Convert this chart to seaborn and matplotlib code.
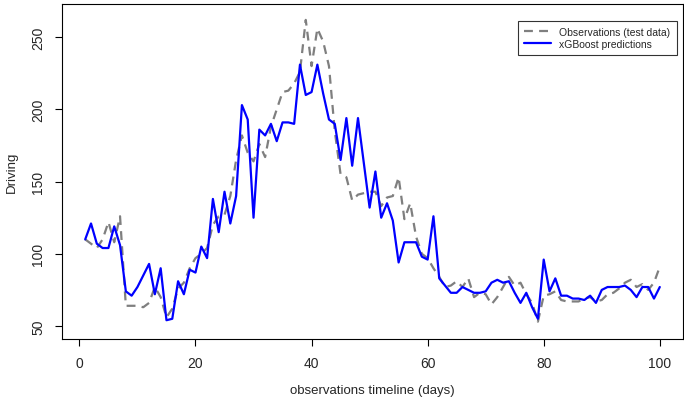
"""Observed vs xGBoost-predicted driving mobility over the test window."""

import matplotlib

matplotlib.use("Agg")
import matplotlib.pyplot as plt
import pandas as pd
import seaborn as sns

days = list(range(1, 101))

observed = [
    110, 107, 104, 110, 122, 108, 126, 64, 64, 64,
    63, 66, 77, 70, 56, 62, 76, 80, 90, 97,
    100, 104, 120, 126, 127, 140, 165, 182, 170, 164,
    176, 167, 188, 200, 212, 213, 218, 226, 262, 230,
    256, 247, 230, 185, 155, 153, 137, 141, 142, 143,
    143, 133, 139, 140, 153, 124, 135, 112, 100, 97,
    90, 84, 77, 78, 81, 77, 83, 70, 73, 72,
    65, 70, 77, 84, 78, 80, 72, 66, 53, 71,
    72, 74, 68, 67, 67, 67, 69, 70, 67, 68,
    72, 73, 76, 80, 82, 77, 79, 75, 80, 91,
]

predicted = [
    110, 121, 107, 104, 104, 119, 106, 74, 71, 77,
    85, 93, 72, 90, 54, 55, 81, 72, 89, 87,
    105, 97, 138, 115, 143, 121, 140, 203, 193, 125,
    186, 182, 190, 178, 191, 191, 190, 231, 210, 212,
    231, 211, 193, 190, 165, 194, 161, 194, 163, 132,
    157, 125, 135, 123, 94, 108, 108, 108, 98, 96,
    126, 83, 78, 73, 73, 77, 75, 73, 73, 74,
    80, 82, 80, 81, 73, 66, 73, 63, 55, 96,
    74, 83, 71, 71, 69, 69, 68, 71, 66, 75,
    77, 77, 77, 78, 75, 70, 77, 77, 69, 77,
]

series_names = ["Observations (test data)", "xGBoost predictions"]

df = pd.concat(
    [
        pd.DataFrame({"day": days, "value": observed, "series": series_names[0]}),
        pd.DataFrame({"day": days, "value": predicted, "series": series_names[1]}),
    ]
)

sns.set_style("white")
plt.rcParams["font.family"] = ["Liberation Sans", "DejaVu Sans"]

fig = plt.figure(figsize=(6.84, 4.06), dpi=100)
ax = fig.add_axes([62 / 684, 66 / 406, 621 / 684, 335 / 406])

sns.lineplot(
    data=df,
    x="day",
    y="value",
    hue="series",
    style="series",
    palette={series_names[0]: "#7f7f7f", series_names[1]: "#0000ff"},
    dashes={series_names[0]: (4, 2.8), series_names[1]: ""},
    linewidth=1.6,
    ax=ax,
)
# draw the blue line on top of the grey one
ax.lines[1].set_zorder(3)

ax.set_xlim(-3, 104)
ax.set_ylim(41, 273)
ax.set_xticks([0, 20, 40, 60, 80, 100])
ax.set_yticks([50, 100, 150, 200, 250])
ax.tick_params(direction="out", length=5, width=0.8, color="black",
               labelsize=10, pad=7, bottom=True, left=True)
for lab in ax.get_yticklabels():
    lab.set_rotation(90)
    lab.set_va("center")
for side in ax.spines.values():
    side.set_color("black")
    side.set_linewidth(0.8)

ax.set_xlabel("observations timeline (days)", fontsize=9.5, labelpad=10)
ax.set_ylabel("Driving", fontsize=9.5, labelpad=10)

leg = ax.legend(
    loc="upper right",
    bbox_to_anchor=(0.99, 0.95),
    fontsize=7.5,
    frameon=True,
    fancybox=False,
    handlelength=2.6,
    borderpad=0.6,
    labelspacing=0.15,
    borderaxespad=0,
)
leg.get_frame().set_edgecolor("black")
leg.get_frame().set_linewidth(0.8)

fig.savefig("out.png", dpi=100)
